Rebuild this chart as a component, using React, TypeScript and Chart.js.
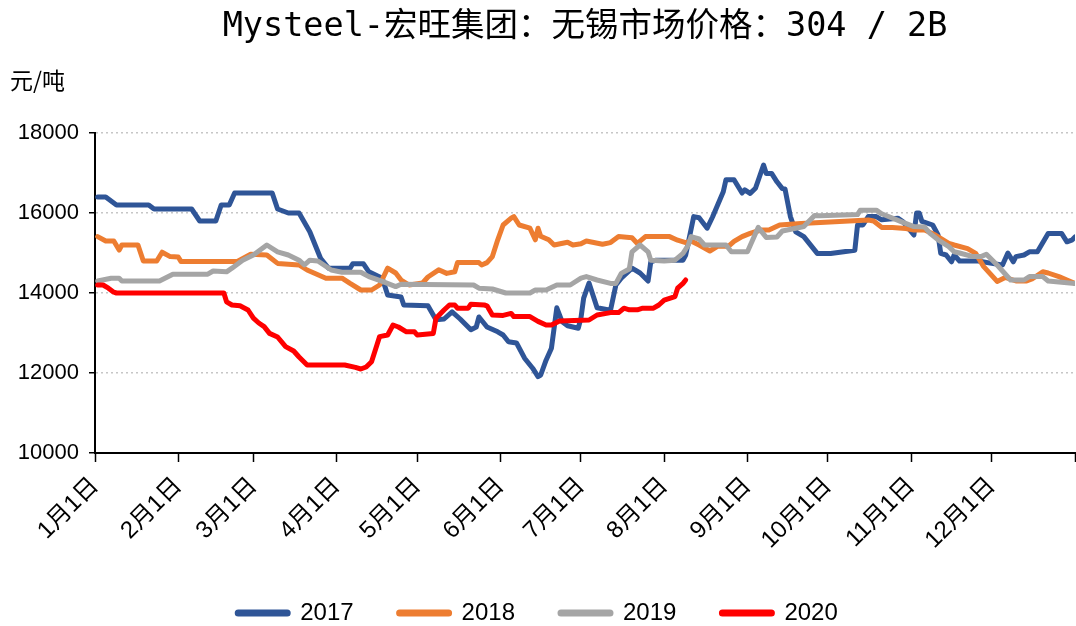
import React, { useEffect, useRef } from "react";
import { Chart, registerables } from "chart.js";

Chart.register(...registerables);

const titleText = "Mysteel-宏旺集团：无锡市场价格：304 / 2B";
const unitLabel = "元/吨";

const tickDays = [0, 31, 59, 90, 120, 151, 181, 212, 243, 273, 304, 334, 365];
const tickLabels = ["1月1日", "2月1日", "3月1日", "4月1日", "5月1日", "6月1日", "7月1日", "8月1日", "9月1日", "10月1日", "11月1日", "12月1日", ""];

const seriesNames = ["2017", "2018", "2019", "2020"];
const seriesColors = ["#2F5597", "#ED7D31", "#A5A5A5", "#FF0000"];

const days2017 = [1, 4, 8, 20, 22, 36, 39, 45, 47, 50, 52, 66, 68, 72, 76, 80, 84, 87, 95, 96, 100, 102, 107, 109, 114, 115, 124, 127, 130, 133, 136, 140, 142, 143, 146, 150, 152, 154, 157, 160, 163, 165, 166, 168, 170, 172, 174, 176, 180, 181, 182, 184, 187, 192, 194, 196, 200, 203, 206, 207, 209, 219, 220, 223, 225, 228, 230, 234, 235, 238, 241, 242, 244, 246, 249, 250, 252, 254, 256, 257, 259, 261, 264, 269, 274, 283, 284, 286, 288, 291, 293, 299, 301, 305, 306, 307, 308, 312, 314, 315, 317, 319, 320, 322, 329, 334, 338, 340, 342, 343, 346, 348, 351, 355, 360, 362, 364, 365];
const vals2017 = [16400, 16400, 16200, 16200, 16100, 16100, 15800, 15800, 16200, 16200, 16500, 16500, 16100, 16000, 16000, 15530, 14870, 14620, 14620, 14730, 14730, 14530, 14370, 13950, 13900, 13700, 13680, 13330, 13350, 13530, 13350, 13080, 13150, 13400, 13150, 13030, 12950, 12780, 12750, 12370, 12120, 11910, 11950, 12320, 12620, 13630, 13280, 13180, 13120, 13380, 13870, 14250, 13630, 13570, 14200, 14370, 14620, 14500, 14300, 14780, 14820, 14820, 14950, 15910, 15880, 15620, 15900, 16530, 16830, 16830, 16500, 16580, 16490, 16620, 17200, 16990, 16990, 16780, 16610, 16600, 15910, 15530, 15410, 14990, 14990, 15070, 15700, 15700, 15910, 15910, 15830, 15870, 15780, 15450, 16000, 16000, 15790, 15700, 15450, 14990, 14950, 14780, 14950, 14800, 14800, 14740, 14700, 15000, 14780, 14910, 14950, 15030, 15030, 15490, 15490, 15280, 15330, 15400];

const days2018 = [1, 4, 7, 9, 10, 16, 18, 23, 25, 28, 31, 32, 53, 58, 64, 68, 72, 76, 79, 86, 92, 95, 99, 103, 106, 109, 112, 114, 117, 122, 124, 128, 131, 134, 135, 143, 144, 146, 148, 150, 152, 155, 156, 158, 162, 164, 165, 166, 169, 171, 176, 178, 181, 183, 189, 192, 195, 200, 202, 205, 214, 217, 220, 222, 225, 229, 232, 236, 238, 241, 244, 248, 251, 255, 263, 288, 290, 293, 297, 302, 305, 309, 313, 318, 320, 325, 328, 331, 336, 339, 343, 347, 349, 353, 355, 359, 362, 365];
const vals2018 = [15410, 15300, 15300, 15075, 15200, 15200, 14800, 14800, 15020, 14910, 14900, 14790, 14790, 14970, 14950, 14740, 14720, 14700, 14575, 14370, 14370, 14240, 14075, 14075, 14200, 14620, 14500, 14325, 14200, 14250, 14400, 14580, 14490, 14530, 14760, 14760, 14700, 14760, 14910, 15330, 15700, 15870, 15910, 15700, 15620, 15330, 15620, 15420, 15330, 15200, 15270, 15200, 15230, 15300, 15220, 15260, 15410, 15380, 15240, 15410, 15410, 15320, 15260, 15300, 15200, 15050, 15170, 15170, 15290, 15410, 15490, 15575, 15575, 15700, 15740, 15825, 15800, 15640, 15640, 15610, 15575, 15575, 15450, 15240, 15200, 15110, 14990, 14660, 14290, 14390, 14300, 14300, 14350, 14530, 14500, 14410, 14325, 14240];

const days2019 = [1, 6, 9, 10, 24, 29, 42, 44, 49, 51, 55, 59, 61, 64, 68, 72, 76, 78, 80, 83, 88, 92, 99, 102, 107, 112, 114, 141, 143, 148, 153, 162, 164, 168, 172, 177, 181, 183, 187, 192, 194, 196, 199, 200, 203, 206, 207, 212, 216, 219, 221, 222, 225, 227, 235, 237, 243, 247, 250, 254, 256, 261, 264, 268, 270, 284, 285, 291, 293, 300, 305, 309, 311, 314, 318, 320, 322, 327, 330, 332, 336, 341, 346, 348, 353, 355, 365];
const vals2019 = [14300, 14370, 14370, 14300, 14300, 14470, 14470, 14550, 14530, 14620, 14820, 14950, 15050, 15200, 15030, 14950, 14820, 14700, 14820, 14800, 14575, 14520, 14520, 14410, 14290, 14160, 14220, 14200, 14120, 14100, 14000, 14000, 14075, 14075, 14200, 14200, 14370, 14410, 14325, 14240, 14240, 14490, 14600, 15030, 15200, 15030, 14820, 14800, 14820, 14990, 15200, 15410, 15350, 15200, 15200, 15030, 15030, 15640, 15390, 15400, 15550, 15620, 15660, 15940, 15930, 15960, 16070, 16070, 15980, 15790, 15660, 15650, 15490, 15330, 15160, 15030, 15000, 14910, 14910, 14970, 14700, 14325, 14325, 14410, 14410, 14300, 14240];

const days2020 = [1, 3, 5, 7, 8, 48, 49, 51, 54, 57, 59, 61, 63, 65, 68, 71, 74, 76, 79, 93, 97, 99, 101, 103, 105, 106, 109, 111, 113, 116, 119, 120, 126, 127, 130, 132, 134, 135, 139, 140, 145, 146, 148, 152, 155, 156, 162, 165, 168, 170, 173, 184, 187, 192, 195, 197, 199, 202, 204, 208, 210, 212, 216, 217, 219, 220];
const vals2020 = [14200, 14200, 14120, 14020, 14000, 14000, 13780, 13700, 13680, 13575, 13370, 13250, 13160, 12990, 12900, 12660, 12550, 12400, 12200, 12200, 12140, 12100, 12150, 12280, 12700, 12910, 12950, 13200, 13150, 13030, 13030, 12950, 12990, 13370, 13575, 13700, 13700, 13620, 13620, 13720, 13700, 13680, 13450, 13440, 13490, 13410, 13410, 13290, 13200, 13200, 13300, 13325, 13450, 13510, 13510, 13620, 13580, 13580, 13620, 13620, 13700, 13820, 13910, 14120, 14240, 14325];

const yMin = 10000;
const yMax = 18000;
const yStep = 2000;

const toPoints = (d: number[], v: number[]) => d.map((x, i) => ({ x, y: v[i] }));

const unitLabelPlugin = {
  id: "unitLabel",
  afterDraw(chart: any) {
    const ctx = chart.ctx;
    ctx.save();
    ctx.font = '23px "Noto Sans CJK SC"';
    ctx.fillStyle = "#000";
    ctx.textBaseline = "middle";
    ctx.textAlign = "left";
    ctx.fillText(unitLabel, 10, 80);
    ctx.restore();
  },
};

export default function App() {
  const canvasRef = useRef<HTMLCanvasElement | null>(null);

  useEffect(() => {
    document.body.style.margin = "0";
    const canvas = canvasRef.current;
    if (!canvas) return;
    const allDays = [days2017, days2018, days2019, days2020];
    const allVals = [vals2017, vals2018, vals2019, vals2020];
    const datasets = seriesNames.map((name, i) => ({
      label: name,
      data: toPoints(allDays[i], allVals[i]),
      borderColor: seriesColors[i],
      backgroundColor: seriesColors[i],
      borderWidth: 5,
      pointRadius: 0,
      tension: 0,
      borderJoinStyle: "round" as const,
      borderCapStyle: "round" as const,
      order: seriesNames.length - 1 - i,
    }));

    const chart = new Chart(canvas, {
      type: "line",
      data: { datasets },
      plugins: [unitLabelPlugin],
      options: {
        responsive: false,
        animation: false,
        layout: { padding: { left: 0, right: 1, top: 0, bottom: 0 } },
        plugins: {
          title: {
            display: true,
            text: titleText,
            fullSize: false,
            color: "#000",
            font: { family: '"DejaVu Sans Mono", "Noto Sans CJK SC", monospace', size: 33.5, weight: "normal" },
            padding: { top: 7, bottom: 85.8 },
          },
          legend: {
            position: "bottom",
            maxHeight: 70,
            labels: {
              boxWidth: 51,
              boxHeight: 2,
              padding: 45,
              color: "#000",
              useBorderRadius: true,
              borderRadius: 1,
              font: { family: '"Liberation Sans", sans-serif', size: 24 },
              sort: (a: any, b: any) => a.datasetIndex - b.datasetIndex,
            },
          },
          tooltip: { enabled: false },
        },
        scales: {
          x: {
            type: "linear",
            min: 0,
            max: 365,
            afterBuildTicks: (scale: any) => {
              scale.ticks = tickDays.map((v) => ({ value: v }));
            },
            afterFit: (scale: any) => {
              scale.height = 103;
              scale.paddingRight = 0;
              scale.paddingLeft = 0;
            },
            ticks: {
              autoSkip: false,
              minRotation: 45,
              maxRotation: 45,
              padding: 10,
              color: "#000",
              font: { family: '"Liberation Sans", "Noto Sans CJK SC", sans-serif', size: 24 },
              callback: (_v: any, index: number) => tickLabels[index] ?? "",
            },
            grid: {
              drawOnChartArea: false,
              drawTicks: true,
              tickLength: 9,
              tickColor: "#000",
              tickWidth: 1.5,
            },
            border: { display: true, color: "#000", width: 2 },
          },
          y: {
            min: yMin,
            max: yMax,
            afterFit: (scale: any) => {
              scale.width = 95;
            },
            ticks: {
              stepSize: yStep,
              padding: 10,
              color: "#000",
              font: { family: '"Liberation Sans", sans-serif', size: 22 },
              callback: (v: any) => String(v),
            },
            grid: {
              color: "#c6c6c6",
              lineWidth: 1.5,
              tickLength: 6,
              tickColor: "#000",
              tickWidth: 1.5,
              tickBorderDash: [],
            },
            border: { display: true, color: "#000", width: 2, dash: [2, 3] },
          },
        },
      },
    });
    return () => chart.destroy();
  }, []);

  return (
    <div style={{ width: 1076, height: 626, background: "#fff" }}>
      <canvas ref={canvasRef} width={1076} height={626} />
    </div>
  );
}
